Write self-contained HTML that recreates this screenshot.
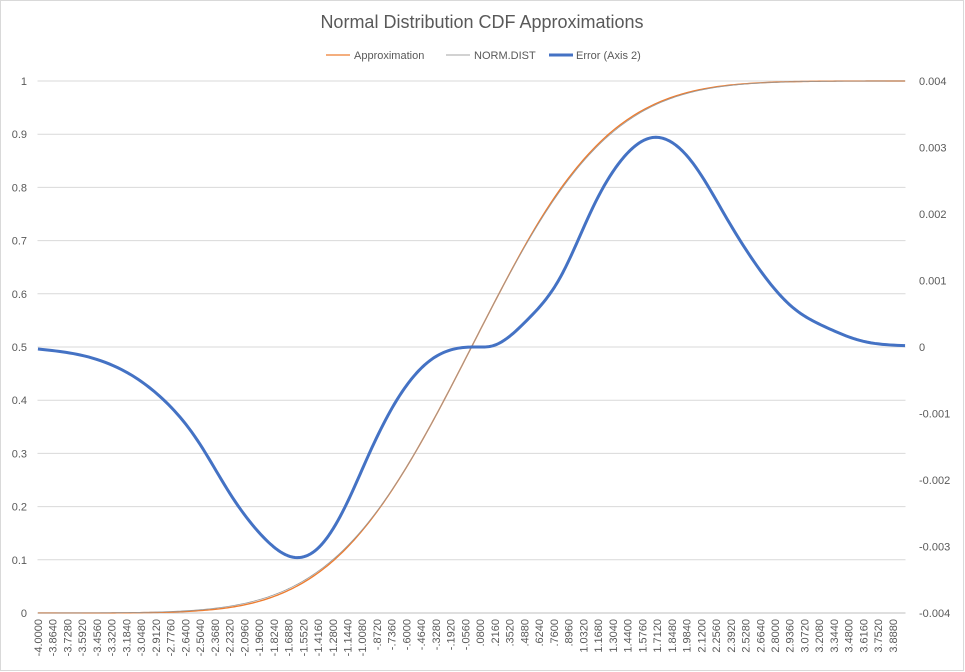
<!DOCTYPE html>
<html><head><meta charset="utf-8"><style>
body{margin:0;background:#fff;}
svg{display:block;font-family:"Liberation Sans",sans-serif;}
</style></head><body>
<svg id="chart" width="965" height="672">
<rect x="0.5" y="0.5" width="963" height="670" fill="#fff" stroke="#d9d9d9"/>
<text x="482" y="28" text-anchor="middle" font-size="18" fill="#595959">Normal Distribution CDF Approximations</text>
<g>
<g><line x1="326" y1="55" x2="350" y2="55" stroke="#ed7d31" stroke-width="1.2"/><text x="354" y="59" font-size="11" fill="#595959">Approximation</text></g>
<g><line x1="446" y1="55" x2="470" y2="55" stroke="#a5a5a5" stroke-width="1"/><text x="474" y="59" font-size="11" fill="#595959">NORM.DIST</text></g>
<g><line x1="549" y1="55" x2="573" y2="55" stroke="#4472c4" stroke-width="3"/><text x="576" y="59" font-size="11" fill="#595959">Error (Axis 2)</text></g>
</g>
<g id="grid"></g>
<g id="yl"></g>
<g id="yr"></g>
<g id="xl"></g>
<g id="series"></g>
</svg>
<script>
const cdfX=[-4,-3.75,-3.5,-3.25,-3,-2.75,-2.5,-2.25,-2,-1.75,-1.5,-1.25,-1,-0.75,-0.5,-0.25,0,0.25,0.5,0.75,1,1.25,1.5,1.75,2,2.25,2.5,2.75,3,3.25,3.5,3.75,4];
const normDist=[0.00003,0.00009,0.00023,0.00058,0.00135,0.00298,0.00621,0.01222,0.02275,0.04006,0.06681,0.10565,0.15866,0.22663,0.30854,0.40129,0.5,0.59871,0.69146,0.77337,0.84134,0.89435,0.93319,0.95994,0.97725,0.98778,0.99379,0.99702,0.99865,0.99942,0.99977,0.99991,0.99997];
const approx=[0.00003,0.00005,0.00012,0.00030,0.00080,0.00190,0.00460,0.00980,0.01980,0.03700,0.06370,0.10290,0.15700,0.22600,0.30840,0.40129,0.5,0.59880,0.69300,0.77630,0.84420,0.89720,0.93560,0.96180,0.97870,0.98880,0.99440,0.99740,0.99890,0.99960,0.99990,1.0,1.0];
const errX=[-4,-3.61,-3.15,-2.85,-2.53,-2.23,-1.92,-1.65,-1.40,-1.15,-0.94,-0.69,-0.38,-0.13,0.04,0.20,0.51,0.82,1.12,1.43,1.67,2.04,2.36,2.66,2.96,3.28,3.58,4];
const errY=[-0.00003,-0.00012,-0.00041,-0.00078,-0.0014,-0.0022,-0.00286,-0.00316,-0.003,-0.00235,-0.00159,-0.0008,-0.0002,-0.00002,0,0.00002,0.0004,0.00105,0.0021,0.0029,0.00315,0.00277,0.00192,0.00116,0.0006,0.00029,0.0001,0.00002];
const leftTicks=["0","0.1","0.2","0.3","0.4","0.5","0.6","0.7","0.8","0.9","1"];
const rightTicks=["-0.004","-0.003","-0.002","-0.001","0","0.001","0.002","0.003","0.004"];
const xTickLabels=["-4.0000","-3.8640","-3.7280","-3.5920","-3.4560","-3.3200","-3.1840","-3.0480","-2.9120","-2.7760","-2.6400","-2.5040","-2.3680","-2.2320","-2.0960","-1.9600","-1.8240","-1.6880","-1.5520","-1.4160","-1.2800","-1.1440","-1.0080","-.8720","-.7360","-.6000","-.4640","-.3280","-.1920","-.0560",".0800",".2160",".3520",".4880",".6240",".7600",".8960","1.0320","1.1680","1.3040","1.4400","1.5760","1.7120","1.8480","1.9840","2.1200","2.2560","2.3920","2.5280","2.6640","2.8000","2.9360","3.0720","3.2080","3.3440","3.4800","3.6160","3.7520","3.8880"];
const xTickValues=xTickLabels.map(s=>parseFloat(s));
const L=37.5,R=905.5,T=81,B=613,N=1001;
const cw=(R-L)/N;
const xs=v=>L+((v+4)/0.008+0.5)*cw;
const yl=v=>B-(v/1)*(B-T);
const yr=v=>B-((v+0.004)/0.008)*(B-T);
const NS="http://www.w3.org/2000/svg";
function mk(tag,attrs,parent){const e=document.createElementNS(NS,tag);for(const k in attrs)e.setAttribute(k,attrs[k]);parent.appendChild(e);return e;}
const grid=document.getElementById('grid'),gl=document.getElementById('yl'),gr=document.getElementById('yr'),gx=document.getElementById('xl'),gs=document.getElementById('series');
leftTicks.forEach((t,i)=>{const v=parseFloat(t);const y=yl(v);
 const ln=mk('line',{x1:L,x2:R,y1:y,y2:y,stroke:i==0?'#bfbfbf':'#d9d9d9','stroke-width':1},grid);
 
 
 const tx=mk('text',{x:27,y:y+4,'text-anchor':'end','font-size':11,fill:'#595959'},gl);tx.textContent=t;
 
 
});
rightTicks.forEach(t=>{const y=yr(parseFloat(t));
 const tx=mk('text',{x:919,y:y+4,'font-size':11,fill:'#595959'},gr);tx.textContent=t;
 
 
});
xTickLabels.forEach((t,i)=>{const x=xs(xTickValues[i]);
 const tx=mk('text',{x:0,y:0,'text-anchor':'end','font-size':11,fill:'#595959',transform:`translate(${x+4},619) rotate(-90)`},gx);tx.textContent=t;
 
 
});
// natural cubic spline in x, sampled for drawing
function splinePath(X,Y,sx,sy){const n=X.length,h=[],a=[],l=[1],mu=[0],z=[0],c=new Array(n).fill(0),b=[],d=[];
 for(let i=0;i<n-1;i++)h[i]=X[i+1]-X[i];
 for(let i=1;i<n-1;i++)a[i]=3/h[i]*(Y[i+1]-Y[i])-3/h[i-1]*(Y[i]-Y[i-1]);
 for(let i=1;i<n-1;i++){l[i]=2*(X[i+1]-X[i-1])-h[i-1]*mu[i-1];mu[i]=h[i]/l[i];z[i]=(a[i]-h[i-1]*z[i-1])/l[i];}
 for(let j=n-2;j>=0;j--){c[j]=(j==0?0:z[j])-mu[j]*c[j+1];if(j==0)c[0]=0;b[j]=(Y[j+1]-Y[j])/h[j]-h[j]*(c[j+1]+2*c[j])/3;d[j]=(c[j+1]-c[j])/(3*h[j]);}
 let p=`M${sx(X[0])},${sy(Y[0])}`;
 for(let j=0;j<n-1;j++){const steps=12;for(let k=1;k<=steps;k++){const t=h[j]*k/steps;const v=Y[j]+b[j]*t+c[j]*t*t+d[j]*t*t*t;p+=` L${sx(X[j]+t).toFixed(2)},${sy(v).toFixed(2)}`;}}
 return p;}
const pa=mk('path',{d:splinePath(cdfX,approx,xs,yl),fill:'none',stroke:'#ed7d31','stroke-width':1.4},gs);


const pn=mk('path',{d:splinePath(cdfX,normDist,xs,yl),fill:'none',stroke:'#999','stroke-width':0.8},gs);


const pe=mk('path',{d:splinePath(errX,errY,xs,yr),fill:'none',stroke:'#4472c4','stroke-width':3,'stroke-linejoin':'round'},gs);


</script>
</body></html>
